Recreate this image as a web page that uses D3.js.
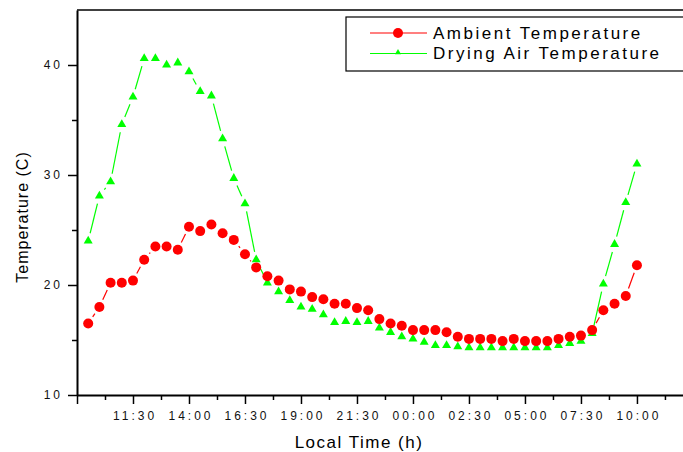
<!DOCTYPE html>
<html>
<head>
<meta charset="utf-8">
<script src="https://cdn.jsdelivr.net/npm/d3@7"></script>
<style>
  body { margin: 0; background: #fff; }
  svg { display: block; font-family: "Liberation Sans", Arial, sans-serif; }
</style>
</head>
<body>
<div id="chart"></div>
<script>
// readings every half hour, from 09:30 on day one to 10:00 on day two
const times = [
  "09:30", "10:00", "10:30", "11:00", "11:30", "12:00", "12:30", "13:00", "13:30", "14:00",
  "14:30", "15:00", "15:30", "16:00", "16:30", "17:00", "17:30", "18:00", "18:30", "19:00",
  "19:30", "20:00", "20:30", "21:00", "21:30", "22:00", "22:30", "23:00", "23:30",
  "00:00", "00:30", "01:00", "01:30", "02:00", "02:30", "03:00", "03:30", "04:00", "04:30",
  "05:00", "05:30", "06:00", "06:30", "07:00", "07:30", "08:00", "08:30", "09:00", "09:30", "10:00"
]
const ambientTemp = [
  16.5, 18.0, 20.2, 20.2, 20.4, 22.3, 23.5, 23.5, 23.2, 25.3,
  24.9, 25.5, 24.7, 24.1, 22.8, 21.6, 20.8, 20.4, 19.6, 19.4,
  18.9, 18.7, 18.3, 18.3, 17.9, 17.7, 16.9, 16.5, 16.3,
  15.9, 15.9, 15.9, 15.7, 15.3, 15.1, 15.1, 15.1, 14.9, 15.1,
  14.9, 14.9, 14.9, 15.1, 15.3, 15.4, 15.9, 17.7, 18.3, 19.0, 21.8
]
const dryingTemp = [
  24.0, 28.1, 29.4, 34.6, 37.1, 40.6, 40.6, 40.0, 40.2, 39.4,
  37.6, 37.2, 33.3, 29.7, 27.4, 22.3, 20.2, 19.4, 18.6, 18.0,
  17.8, 17.3, 16.6, 16.7, 16.6, 16.7, 16.1, 15.7, 15.3,
  15.1, 14.8, 14.5, 14.5, 14.4, 14.3, 14.3, 14.3, 14.3, 14.3,
  14.3, 14.3, 14.3, 14.5, 14.7, 14.9, 15.6, 20.1, 23.7, 27.5, 31.0
]
// major x ticks (first one has no label)
const xTickTimes = ["09:00", "11:30", "14:00", "16:30", "19:00", "21:30", "00:00", "02:30", "05:00", "07:30", "10:00"]
const xTickLabels = ["", "11:30", "14:00", "16:30", "19:00", "21:30", "00:00", "02:30", "05:00", "07:30", "10:00"]
const yTicks = [10, 20, 30, 40]
const yMinorTicks = [15, 25, 35]
const seriesNames = ["Ambient Temperature", "Drying Air Temperature"]

const width = 683
const height = 452
const margin = { left: 77, top: 10, bottom: 57 }

// turn "hh:mm" labels into dates, moving to the next day after midnight
function toDates(labels) {
  let day = 0
  let prevHour = -1
  return labels.map(function (s) {
    const h = +s.slice(0, 2)
    const m = +s.slice(3, 5)
    if (h < prevHour) day = day + 1
    prevHour = h
    return new Date(2000, 0, 1 + day, h, m)
  })
}

const dates = toDates(times)
const tickDates = toDates(xTickTimes)
const minorDates = tickDates.map(d => new Date(d.getTime() + 75 * 60000))

const xScale = d3.scaleTime()
  .domain([new Date(2000, 0, 1, 9, 0), new Date(2000, 0, 2, 12, 30)])
  .range([margin.left, margin.left + 1650 * 0.3733])

const yScale = d3.scaleLinear()
  .domain([10, 45])
  .range([height - margin.bottom, margin.top])

const svg = d3.select('div#chart').append('svg').attr('width', width).attr('height', height)

// top frame line
svg.append('line')
  .attr('x1', margin.left).attr('x2', width + 10)
  .attr('y1', yScale(45)).attr('y2', yScale(45))
  .attr('stroke', '#000').attr('stroke-width', 1.5)

// minor ticks first so the main axes sit on top
svg.append('g')
  .attr('transform', 'translate(0 ' + yScale(10) + ')')
  .call(d3.axisBottom(xScale).tickValues(minorDates).tickSize(5).tickSizeOuter(0).tickFormat(''))
  .call(g => g.select('.domain').remove())
  .call(g => g.selectAll('line').attr('stroke-width', 1.5))
svg.append('g')
  .attr('transform', 'translate(' + margin.left + ' 0)')
  .call(d3.axisLeft(yScale).tickValues(yMinorTicks).tickSize(5).tickSizeOuter(0).tickFormat(''))
  .call(g => g.select('.domain').remove())
  .call(g => g.selectAll('line').attr('stroke-width', 1.5))

const xAxis = d3.axisBottom(xScale)
  .tickValues(tickDates)
  .tickSize(9)
  .tickSizeOuter(0)
  .tickPadding(7)
  .tickFormat((d, i) => xTickLabels[i])
svg.append('g')
  .attr('class', 'axis-x')
  .attr('transform', 'translate(0 ' + yScale(10) + ')')
  .call(xAxis)

const yAxis = d3.axisLeft(yScale)
  .tickValues(yTicks)
  .tickSize(9)
  .tickSizeOuter(0)
  .tickPadding(8)
svg.append('g')
  .attr('class', 'axis-y')
  .attr('transform', 'translate(' + margin.left + ' 0)')
  .call(yAxis)

svg.selectAll('.axis-x .domain, .axis-y .domain').attr('stroke-width', 2)
svg.selectAll('.axis-x .tick line, .axis-y .tick line').attr('stroke-width', 1.5)
svg.selectAll('.axis-x text')
  .attr('font-size', 12).attr('letter-spacing', 3).attr('fill', '#111')
  .attr('dx', 1.5)
svg.selectAll('.axis-y text')
  .attr('font-size', 12).attr('letter-spacing', 3).attr('fill', '#111')
  .attr('dx', 3)

// axis titles
svg.append('text')
  .attr('x', 359).attr('y', 448)
  .attr('text-anchor', 'middle')
  .attr('font-size', 17).attr('letter-spacing', 1.5)
  .text('Local Time (h)')
svg.append('text')
  .attr('transform', 'translate(28 217) rotate(-90)')
  .attr('text-anchor', 'middle')
  .attr('font-size', 16).attr('letter-spacing', 1)
  .text('Temperature (C)')

// origin style lines: each segment stops short of the symbols
function gapSegments(values, gap) {
  const pts = values.map((v, i) => [xScale(dates[i]), yScale(v)])
  const segs = []
  for (let i = 1; i < pts.length; i++) {
    const dx = pts[i][0] - pts[i - 1][0]
    const dy = pts[i][1] - pts[i - 1][1]
    const len = Math.sqrt(dx * dx + dy * dy)
    if (len <= 2 * gap) continue
    const ux = dx / len
    const uy = dy / len
    segs.push([pts[i - 1][0] + ux * gap, pts[i - 1][1] + uy * gap, pts[i][0] - ux * gap, pts[i][1] - uy * gap])
  }
  return segs
}

const triangle = d3.symbol().type(d3.symbolTriangle).size(35)

svg.append('g').selectAll('line')
  .data(gapSegments(dryingTemp, 8))
  .enter().append('line')
  .attr('x1', d => d[0]).attr('y1', d => d[1])
  .attr('x2', d => d[2]).attr('y2', d => d[3])
  .attr('stroke', '#00ff00').attr('stroke-width', 1.2)

svg.append('g').selectAll('line')
  .data(gapSegments(ambientTemp, 8))
  .enter().append('line')
  .attr('x1', d => d[0]).attr('y1', d => d[1])
  .attr('x2', d => d[2]).attr('y2', d => d[3])
  .attr('stroke', '#ff0000').attr('stroke-width', 1.2)

svg.append('g').selectAll('path')
  .data(dryingTemp)
  .enter().append('path')
  .attr('d', triangle)
  .attr('transform', (d, i) => 'translate(' + xScale(dates[i]) + ' ' + yScale(d) + ')')
  .attr('fill', '#00ff00')

svg.append('g').selectAll('circle')
  .data(ambientTemp)
  .enter().append('circle')
  .attr('cx', (d, i) => xScale(dates[i]))
  .attr('cy', d => yScale(d))
  .attr('r', 5)
  .attr('fill', '#ff0000')

// legend
const legend = svg.append('g').attr('transform', 'translate(346 17)')
legend.append('rect')
  .attr('width', 360).attr('height', 54)
  .attr('fill', '#fff').attr('stroke', '#000').attr('stroke-width', 1.2)
const legendColors = ['#ff0000', '#00ff00']
seriesNames.forEach(function (name, i) {
  const y = 16 + i * 20.5
  legend.append('line')
    .attr('x1', 24).attr('x2', 81).attr('y1', y).attr('y2', y)
    .attr('stroke', legendColors[i]).attr('stroke-width', 1.2)
  if (i === 0) {
    legend.append('circle').attr('cx', 52).attr('cy', y).attr('r', 5).attr('fill', legendColors[i])
  } else {
    legend.append('path')
      .attr('d', d3.symbol().type(d3.symbolTriangle).size(16))
      .attr('transform', 'translate(52 ' + (y - 1) + ')')
      .attr('fill', legendColors[i])
  }
  legend.append('text')
    .attr('x', 87).attr('y', y + 5.5)
    .attr('font-size', 17).attr('letter-spacing', 2.5)
    .text(name)
})
</script>
</body>
</html>
